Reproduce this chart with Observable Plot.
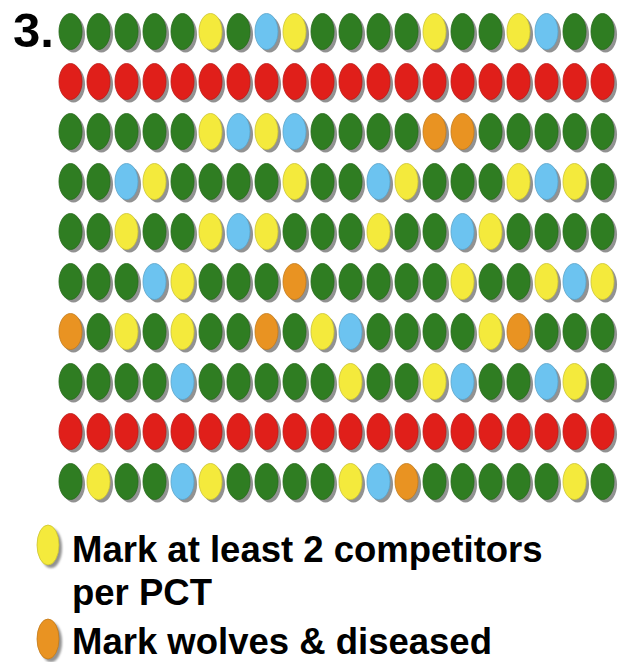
<!DOCTYPE html>
<html>
<head>
<meta charset="utf-8">
<script src="https://cdn.jsdelivr.net/npm/d3@7"></script>
<script src="https://cdn.jsdelivr.net/npm/@observablehq/plot@0.6"></script>
<style>
  html, body { margin: 0; padding: 0; background: #fff; }
  #page { position: relative; width: 624px; height: 662px; overflow: hidden; font-family: "Liberation Sans", Arial, Helvetica, sans-serif; }
  #chart { position: absolute; left: 0; top: 0; }
  .legend-text { font-weight: bold; font-size: 36.5px; color: #000; letter-spacing: 0px; }
  .legend-swatch { position: absolute; }
</style>
</head>
<body>
<div id="page">
  <div id="chart"></div>
  <div id="legend"></div>
</div>
<script>
// ---- data ----
const panelLabel = "3.";
// G = green, R = red, Y = yellow, B = blue, O = orange
const row1  = ["G","G","G","G","G","Y","G","B","Y","G","G","G","G","Y","G","G","Y","B","G","G"];
const row2  = ["R","R","R","R","R","R","R","R","R","R","R","R","R","R","R","R","R","R","R","R"];
const row3  = ["G","G","G","G","G","Y","B","Y","B","G","G","G","G","O","O","G","G","G","G","G"];
const row4  = ["G","G","B","Y","G","G","G","G","Y","G","G","B","Y","G","G","G","Y","B","Y","G"];
const row5  = ["G","G","Y","G","G","Y","B","Y","G","G","G","Y","G","G","B","Y","G","G","G","G"];
const row6  = ["G","G","G","B","Y","G","G","G","O","G","G","G","G","G","Y","G","G","Y","B","Y"];
const row7  = ["O","G","Y","G","Y","G","G","O","G","Y","B","G","G","G","G","Y","O","G","G","G"];
const row8  = ["G","G","G","G","B","G","G","G","G","G","Y","G","G","Y","B","G","G","B","Y","G"];
const row9  = ["R","R","R","R","R","R","R","R","R","R","R","R","R","R","R","R","R","R","R","R"];
const row10 = ["G","Y","G","G","B","Y","G","G","G","G","Y","B","O","G","G","G","G","G","Y","G"];
const rows = [row1,row2,row3,row4,row5,row6,row7,row8,row9,row10];

const legendCodes  = ["Y", "O"];
const legendLabels = ["Mark at least 2 competitors\nper PCT", "Mark wolves & diseased"];

const colorCodes = ["G","R","Y","B","O"];
const colorValues = ["#2f7d22", "#e01f1a", "#f4ea3c", "#6cc3f0", "#e99322"];

// ---- build table ----
const cells = [];
rows.forEach((r, i) => r.forEach((c, j) => cells.push({row: i, col: j, code: c})));

// ellipse symbol (taller than wide)
const ellipse = {
  draw(ctx, size) {
    const r = Math.sqrt(size / Math.PI);
    const rx = r * 0.64, ry = r, k = 0.5523;
    ctx.moveTo(rx, 0);
    ctx.bezierCurveTo(rx, ry * k, rx * k, ry, 0, ry);
    ctx.bezierCurveTo(-rx * k, ry, -rx, ry * k, -rx, 0);
    ctx.bezierCurveTo(-rx, -ry * k, -rx * k, -ry, 0, -ry);
    ctx.bezierCurveTo(rx * k, -ry, rx, -ry * k, rx, 0);
    ctx.closePath();
  }
};

const colorOf = d3.scaleOrdinal(colorCodes, colorValues);
const strokeOf = c => d3.color(colorOf(c)).darker(0.5).formatHex();

const plot = Plot.plot({
  width: 624,
  height: 515,
  marginLeft: 64,
  marginRight: 17,
  marginTop: 28,
  marginBottom: 31,
  style: {overflow: "visible", background: "transparent"},
  x: {type: "point", domain: d3.range(20), padding: 0, axis: null},
  y: {type: "point", domain: d3.range(10), padding: 0, axis: null},
  color: {domain: colorCodes, range: colorValues},
  marks: [
    Plot.dot(cells, {x: "col", y: "row", r: 18, symbol: ellipse, fill: "#4a4a4a", fillOpacity: 0.6, dx: 3, dy: 3, stroke: "none", ariaLabel: "shadow"}),
    Plot.dot(cells, {x: "col", y: "row", r: 18, symbol: ellipse, fill: "code", stroke: d => strokeOf(d.code), strokeWidth: 0.8}),
    Plot.text([panelLabel], {x: () => 0, y: () => 0, dx: -37, dy: 0, text: d => d, fontSize: 49, fontWeight: "bold", fill: "#000", fontFamily: "Liberation Sans, Arial, sans-serif", textAnchor: "middle", lineAnchor: "middle"})
  ]
});
const shadow = plot.querySelector('g[aria-label="shadow"]');
if (shadow) shadow.setAttribute("style", "filter: blur(1.3px)");
document.getElementById("chart").appendChild(plot);

// ---- legend (HTML below the SVG) ----
const legend = document.getElementById("legend");
const itemTops = [528, 624];
const itemLineHeights = [43, 36];
const swatchCenters = [545, 639];
legendCodes.forEach((code, i) => {
  const top = itemTops[i];
  const sw = document.createElementNS("http://www.w3.org/2000/svg", "svg");
  sw.setAttribute("width", 34);
  sw.setAttribute("height", 50);
  sw.setAttribute("class", "legend-swatch");
  sw.style.left = "34px";
  sw.style.top = (swatchCenters[i] - 24) + "px";
  const ell = (cx, cy, fill, extra) => {
    const e = document.createElementNS("http://www.w3.org/2000/svg", "ellipse");
    e.setAttribute("cx", cx); e.setAttribute("cy", cy);
    e.setAttribute("rx", 11); e.setAttribute("ry", 20);
    e.setAttribute("fill", fill);
    if (extra) for (const k in extra) e.setAttribute(k, extra[k]);
    return e;
  };
  sw.appendChild(ell(17, 27, "#4a4a4a", {"fill-opacity": 0.6, style: "filter: blur(1.3px)"}));
  sw.appendChild(ell(14, 24, colorOf(code), {stroke: strokeOf(code), "stroke-width": 0.8}));
  legend.appendChild(sw);
  const txt = document.createElement("div");
  txt.className = "legend-text";
  txt.style.position = "absolute";
  txt.style.left = "72px";
  txt.style.top = top + "px";
  txt.style.lineHeight = itemLineHeights[i] + "px";
  txt.style.whiteSpace = "pre";
  txt.textContent = legendLabels[i];
  legend.appendChild(txt);
});
</script>
</body>
</html>
